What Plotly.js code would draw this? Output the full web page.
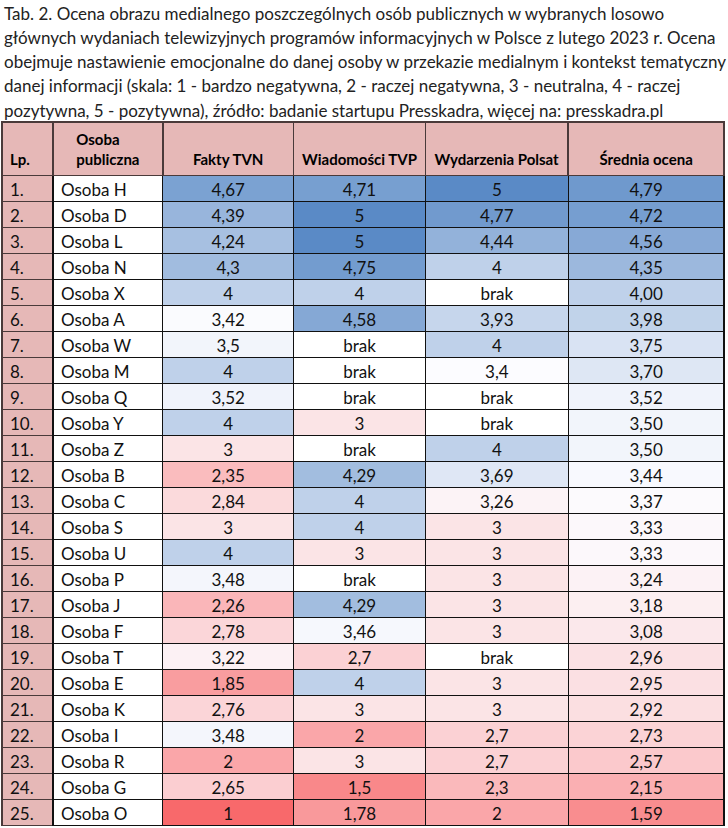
<!DOCTYPE html>
<html>
<head>
<meta charset="utf-8">
<script src="https://cdn.plot.ly/plotly-3.0.1.min.js"></script>
<style>html,body{margin:0;padding:0;background:#fff;}#chart{width:728px;height:828px;}</style>
</head>
<body>
<div id="chart"></div>
<script>
// ---- data ----
const titleLines = [
  'Tab. 2. Ocena obrazu medialnego poszczególnych osób publicznych w wybranych losowo',
  'głównych wydaniach telewizyjnych programów informacyjnych w Polsce z lutego 2023 r. Ocena',
  'obejmuje nastawienie emocjonalne do danej osoby w przekazie medialnym i kontekst tematyczny',
  'danej informacji (skala: 1 - bardzo negatywna, 2 - raczej negatywna, 3 - neutralna, 4 - raczej',
  'pozytywna, 5 - pozytywna), źródło: badanie startupu Presskadra, więcej na: presskadra.pl'
];
const headers = ['Lp.', 'Osoba<br>publiczna', 'Fakty TVN', 'Wiadomości TVP', 'Wydarzenia Polsat', 'Średnia ocena'];
const lp = ['1.','2.','3.','4.','5.','6.','7.','8.','9.','10.','11.','12.','13.','14.','15.','16.','17.','18.','19.','20.','21.','22.','23.','24.','25.'];
const persons = ['Osoba H','Osoba D','Osoba L','Osoba N','Osoba X','Osoba A','Osoba W','Osoba M','Osoba Q','Osoba Y','Osoba Z','Osoba B','Osoba C','Osoba S','Osoba U','Osoba P','Osoba J','Osoba F','Osoba T','Osoba E','Osoba K','Osoba I','Osoba R','Osoba G','Osoba O'];
const faktyTVN = [4.67,4.39,4.24,4.3,4,3.42,3.5,4,3.52,4,3,2.35,2.84,3,4,3.48,2.26,2.78,3.22,1.85,2.76,3.48,2,2.65,1];
const wiadomosciTVP = [4.71,5,5,4.75,4,4.58,null,null,null,3,null,4.29,4,4,3,null,4.29,3.46,2.7,4,3,2,3,1.5,1.78];
const wydarzeniaPolsat = [5,4.77,4.44,4,null,3.93,4,3.4,null,null,4,3.69,3.26,3,3,3,3,3,null,3,3,2.7,2.7,2.3,2];
const sredniaOcena = [4.79,4.72,4.56,4.35,4.00,3.98,3.75,3.70,3.52,3.50,3.50,3.44,3.37,3.33,3.33,3.24,3.18,3.08,2.96,2.95,2.92,2.73,2.57,2.15,1.59];
const missingLabel = 'brak';

// ---- colour scale (3-colour, Excel style) ----
const cMin = [248,105,107], cMid = [252,252,255], cMax = [90,138,198];
const vMin = 1, vMid = 3.4, vMax = 5;
function mix(a, b, t) { return 'rgb(' + a.map((x, i) => Math.round(x + (b[i] - x) * t)).join(',') + ')'; }
function colorFor(v) {
  if (v === null || v === undefined) return '#ffffff';
  if (v <= vMid) return mix(cMid, cMin, Math.min(1, (vMid - v) / (vMid - vMin)));
  return mix(cMid, cMax, Math.min(1, (v - vMid) / (vMax - vMid)));
}
function fmt(v, dec) {
  if (v === null || v === undefined) return missingLabel;
  return (dec ? v.toFixed(dec) : String(v)).replace('.', ',');
}

const pink = '#E6B8B7';
const cellValues = [
  lp, persons,
  faktyTVN.map(v => fmt(v)), wiadomosciTVP.map(v => fmt(v)),
  wydarzeniaPolsat.map(v => fmt(v)), sredniaOcena.map(v => fmt(v, 2))
];
const cellFills = [
  lp.map(() => pink), persons.map(() => '#ffffff'),
  faktyTVN.map(colorFor), wiadomosciTVP.map(colorFor),
  wydarzeniaPolsat.map(colorFor), sredniaOcena.map(colorFor)
];

// single-line headers get an empty first line so they sit at the bottom like the reference
const headerTexts = headers.map(h => h.indexOf('<br>') >= 0
  ? '<b>' + h.replace('<br>', '</b><br><b>') + '</b>'
  : '\u00a0<br><b>' + h + '</b>');

const FONT = 'Lato, "Noto Sans", sans-serif';
const HEADER_H = 49, ROW_H = 26;
const trace = {
  type: 'table',
  columnwidth: [51, 110, 131, 132, 143, 156],
  domain: {x: [0, 1], y: [0, 1]},
  header: {
    values: headerTexts,
    align: ['left', 'center', 'center', 'center', 'center', 'center'],
    fill: {color: pink},
    line: {color: '#4a3a3a', width: 1.5},
    font: {family: FONT, size: 15, color: '#000'},
    height: HEADER_H
  },
  cells: {
    values: cellValues,
    align: ['left', 'left', 'center', 'center', 'center', 'center'],
    fill: {color: cellFills},
    line: {color: ['#4a3a3a', '#111', '#111', '#111', '#111', '#111'], width: 1.2},
    font: {family: FONT, size: 17, color: '#111'},
    height: ROW_H
  }
};

const W = 728, H = 828, mt = 122, mb = 2;
const plotH = H - mt - mb;
function pxToPaperY(px) { return 1 + (mt - px) / plotH; }
const annotations = titleLines.map((t, i) => ({
  text: t, xref: 'paper', yref: 'paper', x: 0, xanchor: 'left',
  y: pxToPaperY(13 + i * 24.3), yanchor: 'middle', showarrow: false, align: 'left',
  font: {family: FONT, size: 17, color: '#222'}
}));

Plotly.newPlot('chart', [trace], {
  width: W, height: H,
  margin: {l: 2, r: 4, t: mt, b: mb},
  paper_bgcolor: '#ffffff',
  annotations: annotations
}, {displayModeBar: false, staticPlot: true});
</script>
</body>
</html>
